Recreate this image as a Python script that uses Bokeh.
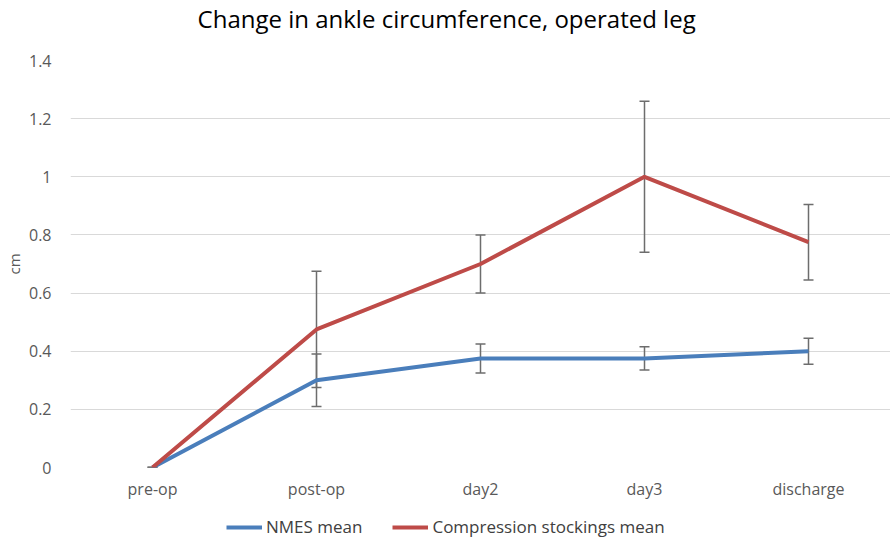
from bokeh.plotting import figure
from bokeh.layouts import column
from bokeh.models import (ColumnDataSource, FactorRange, Range1d, Whisker, TeeHead,
                          Legend, LegendItem, FixedTicker, Label)
from bokeh.embed import file_html
from bokeh.resources import INLINE

categories = ["pre-op", "post-op", "day2", "day3", "discharge"]
nmes_mean = [0.0, 0.30, 0.375, 0.375, 0.40]
nmes_err = [0.0, 0.09, 0.05, 0.04, 0.045]
comp_mean = [0.0, 0.475, 0.70, 1.00, 0.775]
comp_err = [0.0, 0.20, 0.10, 0.26, 0.13]
y_ticks = [0, 0.2, 0.4, 0.6, 0.8, 1.0, 1.2, 1.4]
series_names = ["NMES mean", "Compression stockings mean"]
series_colors = ["#4a7ebb", "#be4b48"]
title_text = "Change in ankle circumference, operated leg"

FONT = "Open Sans"
GREY = "#595959"


def strip(h):
    # strips share the main frame's horizontal alignment (820 px wide frame)
    f = figure(width=884, height=h, x_range=Range1d(0, 820), y_range=Range1d(0, h),
               x_axis_type=None, y_axis_type=None, output_backend="svg", toolbar_location=None,
               min_border=0, min_border_left=64, min_border_right=0, min_border_top=0,
               min_border_bottom=0)
    f.outline_line_color = None
    f.xgrid.grid_line_color = None
    f.ygrid.grid_line_color = None
    return f


# title strip
p0 = strip(48)
p0.add_layout(Label(x=128, y=30, text=title_text, text_font=FONT, text_font_size="24px",
                    text_color="#000000", text_align="left", text_baseline="middle"))

# main chart
p = figure(x_range=FactorRange(*categories, range_padding=0), y_range=Range1d(0, 1.4),
           frame_width=820, frame_height=407, output_backend="svg", toolbar_location=None,
           min_border_left=64, min_border_right=0, min_border_top=12, min_border_bottom=0)
p.outline_line_color = None
p.background_fill_color = "white"

src_n = ColumnDataSource(dict(x=categories, y=nmes_mean,
                              lo=[m - e for m, e in zip(nmes_mean, nmes_err)],
                              hi=[m + e for m, e in zip(nmes_mean, nmes_err)]))
src_c = ColumnDataSource(dict(x=categories, y=comp_mean,
                              lo=[m - e for m, e in zip(comp_mean, comp_err)],
                              hi=[m + e for m, e in zip(comp_mean, comp_err)]))

p.line("x", "y", source=src_n, line_color=series_colors[0], line_width=4)
p.line("x", "y", source=src_c, line_color=series_colors[1], line_width=4)

for src in (src_c, src_n):
    w = Whisker(source=src, base="x", upper="hi", lower="lo", line_color="#6d6d6d", line_width=1.5,
                upper_head=TeeHead(size=10, line_color="#6d6d6d", line_width=1.5),
                lower_head=TeeHead(size=10, line_color="#6d6d6d", line_width=1.5))
    p.add_layout(w)

p.yaxis.ticker = FixedTicker(ticks=y_ticks)
p.yaxis.axis_label = "cm"
p.yaxis.axis_label_text_font = FONT
p.yaxis.axis_label_text_font_size = "15px"
p.yaxis.axis_label_text_font_style = "normal"
p.yaxis.axis_label_text_color = GREY
p.yaxis.axis_label_standoff = 2
for ax in (p.xaxis, p.yaxis):
    ax.axis_line_color = None
    ax.major_tick_line_color = None
    ax.minor_tick_line_color = None
    ax.major_label_text_font = FONT
    ax.major_label_text_font_size = "16px"
    ax.major_label_text_color = GREY
p.yaxis.major_label_standoff = 13
p.xaxis.major_label_standoff = 4
p.xgrid.grid_line_color = None
p.ygrid.grid_line_color = "#d9d9d9"
p.ygrid.grid_line_width = 1.2

# legend strip below the chart (legend swatches use no-data renderers)
p2 = strip(36)
items = []
for name, col in zip(series_names, series_colors):
    r = p2.line(x=[float("nan")], y=[float("nan")], line_color=col, line_width=4)
    items.append(LegendItem(label=name, renderers=[r]))
legend = Legend(items=items, orientation="horizontal", location=(156, 0),
                label_text_font=FONT, label_text_font_size="17px", label_text_color="#404040",
                glyph_width=36, label_standoff=4, spacing=30, border_line_color=None,
                background_fill_alpha=0, margin=0, padding=0)
p2.add_layout(legend, "center")

layout = column(p0, p, p2, spacing=0)
open("out.html", "w").write(file_html(layout, INLINE))
